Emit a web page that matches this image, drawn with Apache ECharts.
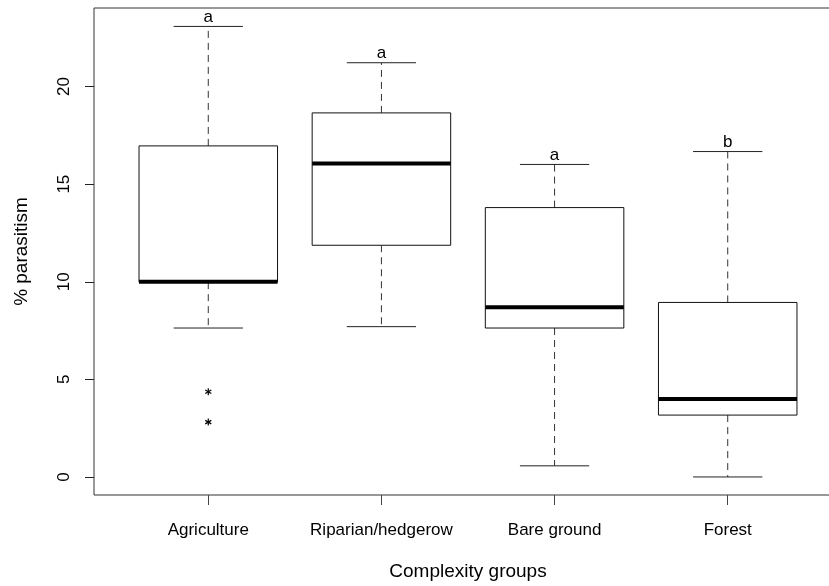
<!DOCTYPE html>
<html>
<head>
<meta charset="utf-8">
<script src="https://cdn.jsdelivr.net/npm/echarts@6/dist/echarts.min.js"></script>
<style>html,body{margin:0;padding:0;background:#fff;overflow:hidden;}#chart{width:870px;height:586px;}</style>
</head>
<body>
<div id="chart"></div>
<script>
const categories = ['Agriculture', 'Riparian/hedgerow', 'Bare ground', 'Forest'];
const lowerWhisker = [7.63, 7.70, 0.57, 0.0];
const q1 = [9.98, 11.87, 7.63, 3.17];
const median = [10.0, 16.06, 8.70, 4.0];
const q3 = [16.96, 18.65, 13.80, 8.94];
const upperWhisker = [23.08, 21.22, 16.01, 16.67];
const outlierGroup = [1, 1];
const outlierValue = [4.37, 2.81];
const letters = ['a', 'a', 'a', 'b'];
const yTicks = [0, 5, 10, 15, 20];

const FONT = 'Liberation Sans, Arial, sans-serif';
const boxData = categories.map((c, i) => [i + 1, lowerWhisker[i], q1[i], median[i], q3[i], upperWhisker[i]]);
const outData = outlierGroup.map((g, i) => [g, outlierValue[i]]);
const letterData = categories.map((c, i) => [i + 1, upperWhisker[i], letters[i]]);

const chart = echarts.init(document.getElementById('chart'), null, {renderer: 'canvas'});

function renderBox(params, api) {
  const x = api.value(0);
  const pLow = api.coord([x, api.value(1)]);
  const pQ1 = api.coord([x, api.value(2)]);
  const pMed = api.coord([x, api.value(3)]);
  const pQ3 = api.coord([x, api.value(4)]);
  const pHigh = api.coord([x, api.value(5)]);
  const hb = api.size([0.4, 0])[0];
  const hc = api.size([0.2, 0])[0];
  const cx = pMed[0];
  const thin = {stroke: '#222', lineWidth: 1, fill: null};
  const dashed = {stroke: '#333', lineWidth: 1, lineDash: [7, 5], fill: null};
  return {
    type: 'group',
    children: [
      {type: 'line', shape: {x1: cx, y1: pQ3[1], x2: cx, y2: pHigh[1]}, style: dashed},
      {type: 'line', shape: {x1: cx, y1: pQ1[1], x2: cx, y2: pLow[1]}, style: dashed},
      {type: 'line', shape: {x1: cx - hc, y1: pHigh[1], x2: cx + hc, y2: pHigh[1]}, style: thin},
      {type: 'line', shape: {x1: cx - hc, y1: pLow[1], x2: cx + hc, y2: pLow[1]}, style: thin},
      {type: 'rect', shape: {x: cx - hb, y: pQ3[1], width: 2 * hb, height: pQ1[1] - pQ3[1]},
        style: {stroke: '#111', lineWidth: 1, fill: '#fff'}},
      {type: 'line', shape: {x1: cx - hb, y1: pMed[1], x2: cx + hb, y2: pMed[1]},
        style: {stroke: '#000', lineWidth: 4}}
    ]
  };
}

function renderStar(params, api) {
  const p = api.coord([api.value(0), api.value(1)]);
  const r = 3.5;
  const st = {stroke: '#000', lineWidth: 1.2};
  const dx = r * Math.cos(Math.PI / 6), dy = r * Math.sin(Math.PI / 6);
  return {
    type: 'group',
    children: [
      {type: 'line', shape: {x1: p[0], y1: p[1] - r, x2: p[0], y2: p[1] + r}, style: st},
      {type: 'line', shape: {x1: p[0] - dx, y1: p[1] - dy, x2: p[0] + dx, y2: p[1] + dy}, style: st},
      {type: 'line', shape: {x1: p[0] - dx, y1: p[1] + dy, x2: p[0] + dx, y2: p[1] - dy}, style: st}
    ]
  };
}

function renderLetter(params, api) {
  const p = api.coord([api.value(0), api.value(1)]);
  return {
    type: 'text',
    style: {
      x: p[0], y: p[1] - 1,
      text: letters[params.dataIndex],
      fontSize: 17, fontFamily: FONT, fill: '#000',
      align: 'center', verticalAlign: 'bottom'
    }
  };
}

const option = {
  backgroundColor: '#fff',
  animation: false,
  grid: {
    left: 94, top: 8, width: 748, height: 489,
    show: true, borderColor: '#333', borderWidth: 1, backgroundColor: 'transparent'
  },
  xAxis: {
    type: 'value', min: 0.34, max: 4.66,
    name: 'Complexity groups', nameLocation: 'middle', nameGap: 67,
    nameTextStyle: {fontSize: 19, fontFamily: FONT, color: '#000'},
    axisLine: {show: false, onZero: false},
    splitLine: {show: false},
    axisTick: {show: true, length: 10, customValues: [1, 2, 3, 4], lineStyle: {color: '#444'}},
    axisLabel: {
      customValues: [1, 2, 3, 4], margin: 27,
      fontSize: 17, fontFamily: FONT, color: '#000',
      formatter: v => categories[Math.round(v) - 1] || ''
    }
  },
  yAxis: {
    type: 'value', min: -0.924, max: 24.024,
    name: '% parasitism', nameLocation: 'middle', nameGap: 63, nameRotate: 90,
    nameTextStyle: {fontSize: 19, fontFamily: FONT, color: '#000'},
    axisLine: {show: false, onZero: false},
    splitLine: {show: false},
    axisTick: {show: true, length: 9, customValues: yTicks, lineStyle: {color: '#222'}},
    axisLabel: {
      customValues: yTicks, rotate: 90, margin: 21,
      fontSize: 17, fontFamily: FONT, color: '#000'
    }
  },
  series: [
    {type: 'custom', renderItem: renderBox, data: boxData, clip: false, silent: true},
    {type: 'custom', renderItem: renderStar, data: outData, silent: true},
    {type: 'custom', renderItem: renderLetter, data: letterData, clip: false, silent: true}
  ]
};
chart.setOption(option);
</script>
</body>
</html>
